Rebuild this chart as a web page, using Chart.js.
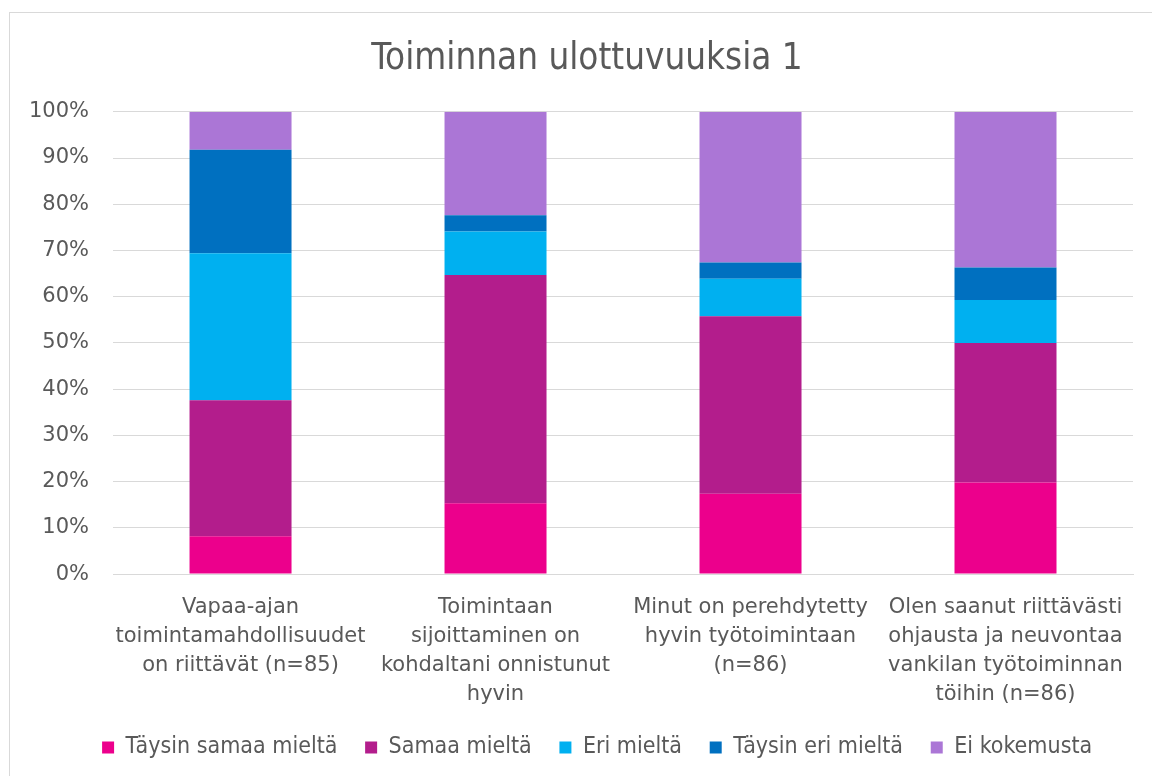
<!DOCTYPE html>
<html>
<head>
<meta charset="utf-8">
<script src="https://cdn.jsdelivr.net/npm/chart.js@4"></script>
<style>
  body { margin: 0; background: #fff; }
  #frame { position: absolute; left: 9px; top: 12px; width: 1160px; height: 790px; border: 1px solid #d9d9d9; box-sizing: border-box; }
  #wrap { position: absolute; left: 0; top: 0; width: 1152px; height: 776px; }
</style>
</head>
<body>
<div id="frame"></div>
<div id="wrap"><canvas id="myChart"></canvas></div>
<script>
// categories (wrapped as in the original)
const categories = [
  ["Vapaa-ajan", "toimintamahdollisuudet", "on riittävät (n=85)"],
  ["Toimintaan", "sijoittaminen on", "kohdaltani onnistunut", "hyvin"],
  ["Minut on perehdytetty", "hyvin työtoimintaan", "(n=86)"],
  ["Olen saanut riittävästi", "ohjausta ja neuvontaa", "vankilan työtoiminnan", "töihin (n=86)"]
];

// shares in percent
const taysinSamaa = [8.2, 15.3, 17.4, 19.8];
const samaa = [29.4, 49.4, 38.4, 30.2];
const eri = [31.8, 9.4, 8.1, 9.3];
const taysinEri = [22.4, 3.5, 3.5, 7.0];
const eiKokemusta = [8.2, 22.4, 32.6, 33.7];

const yTicks = [0, 10, 20, 30, 40, 50, 60, 70, 80, 90, 100];

const font = "'DejaVu Sans', Verdana, sans-serif";
const fontNarrow = "'DejaVu Sans Condensed', 'DejaVu Sans', sans-serif";
const grey = "#595959";

// the original centres title and legend a bit to the right of the canvas middle
const nudge = {
  id: "nudge",
  afterLayout(chart) {
    chart.legend.left += 38;
    chart.legend.right += 38;
    chart.titleBlock.left += 18;
    chart.titleBlock.right += 18;
  },
};

const ctx = document.getElementById("myChart");
const myChart = new Chart(ctx, {
  type: "bar",
  data: {
    labels: categories,
    datasets: [
      { label: "Täysin samaa mieltä", data: taysinSamaa, backgroundColor: "#EC008C" },
      { label: "Samaa mieltä", data: samaa, backgroundColor: "#B31D8C" },
      { label: "Eri mieltä", data: eri, backgroundColor: "#00B0F0" },
      { label: "Täysin eri mieltä", data: taysinEri, backgroundColor: "#0070C0" },
      { label: "Ei kokemusta", data: eiKokemusta, backgroundColor: "#AB76D6" },
    ],
  },
  plugins: [nudge],
  options: {
    responsive: true,
    maintainAspectRatio: false,
    animation: false,
    datasets: {
      bar: { categoryPercentage: 1, barPercentage: 0.4 },
    },
    layout: { padding: { left: 5, right: 19, top: 38, bottom: 7 } },
    plugins: {
      title: {
        display: true,
        text: "Toiminnan ulottuvuuksia 1",
        color: grey,
        font: { family: fontNarrow, size: 36.5, weight: "normal" },
        padding: { top: 0, bottom: 30 },
      },
      legend: {
        position: "bottom",
        labels: {
          color: grey,
          boxWidth: 12,
          boxHeight: 12,
          padding: 8,
          font: { family: fontNarrow, size: 23 },
          // extra room after each entry, like the original
          generateLabels: (chart) =>
            Chart.defaults.plugins.legend.labels.generateLabels(chart).map((l) => {
              l.text = l.text + "   ";
              return l;
            }),
        },
      },
      tooltip: { enabled: false },
    },
    scales: {
      x: {
        stacked: true,
        grid: { display: false, drawTicks: false },
        border: { color: "#d9d9d9" },
        ticks: {
          color: grey,
          maxRotation: 0,
          autoSkip: false,
          padding: 19,
          font: { family: font, size: 21, lineHeight: 1.38 },
        },
      },
      y: {
        stacked: true,
        min: 0,
        max: 100,
        afterBuildTicks: (axis) => {
          axis.ticks = yTicks.map((v) => ({ value: v }));
        },
        grid: { color: "#d9d9d9", drawTicks: false },
        border: { display: false },
        ticks: {
          color: grey,
          padding: 24,
          font: { family: font, size: 21 },
          callback: (v) => v + "%",
        },
      },
    },
  },
});
</script>
</body>
</html>
